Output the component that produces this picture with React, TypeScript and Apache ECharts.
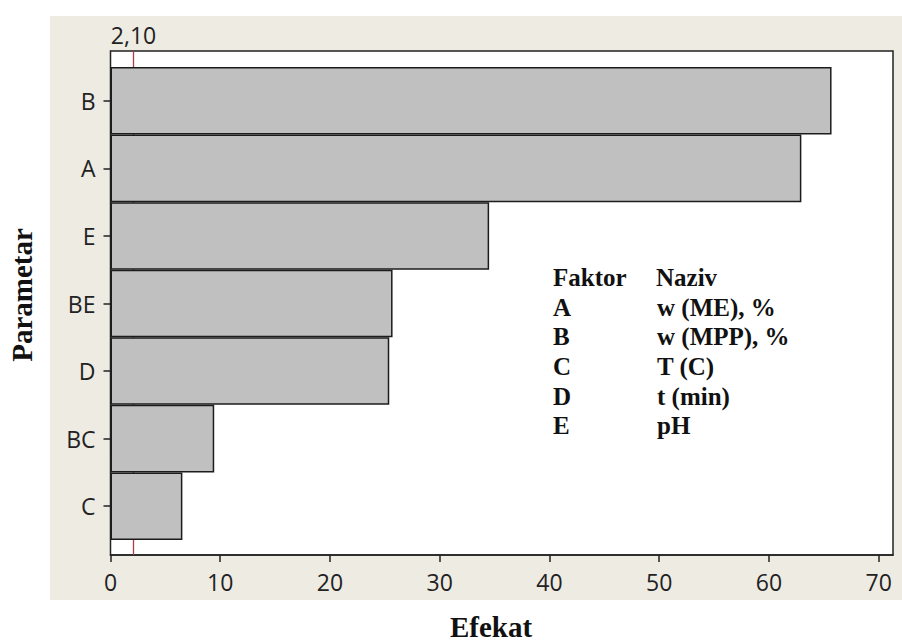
import React, { useEffect, useRef } from "react";
import * as echarts from "echarts";

// Pareto-style effect chart: standardized effects per parameter
const parameters = ["B", "A", "E", "BE", "D", "BC", "C"];
const effects = [65.7, 62.95, 34.5, 25.7, 25.4, 9.45, 6.55];
const criticalValue = 2.1;
const criticalLabel = "2,10";

// Key of factors shown inside the plot
const factorCodes = ["A", "B", "C", "D", "E"];
const factorNames = ["w (ME), %", "w (MPP), %", "T (C)", "t (min)", "pH"];

const X_MAX = 71.3;
const SANS = "'Open Sans', 'Noto Sans', sans-serif";
const SERIF = "'Liberation Serif', 'DejaVu Serif', serif";

export default function App() {
  const ref = useRef<HTMLDivElement>(null);

  useEffect(() => {
    if (!ref.current) return;
    const chart = echarts.init(ref.current, undefined, { renderer: "svg" });

    const keyFont = `bold 25px ${SERIF}`;
    const keyTexts: any[] = [
      { type: "text", x: 553, y: 277, style: { text: "Faktor", font: keyFont, fill: "#111", textVerticalAlign: "middle" } },
      { type: "text", x: 656, y: 277, style: { text: "Naziv", font: keyFont, fill: "#111", textVerticalAlign: "middle" } },
    ];
    factorCodes.forEach((code, i) => {
      const y = 307 + i * 29.7;
      keyTexts.push({ type: "text", x: 553, y, style: { text: code, font: keyFont, fill: "#111", textVerticalAlign: "middle" } });
      keyTexts.push({ type: "text", x: 657, y, style: { text: factorNames[i], font: keyFont, fill: "#111", textVerticalAlign: "middle" } });
    });

    chart.setOption({
      animation: false,
      backgroundColor: "#ffffff",
      graphic: [
        { type: "rect", z: -10, shape: { x: 50, y: 16, width: 852, height: 584 }, style: { fill: "#EEEBE3" }, silent: true },
        {
          type: "text",
          x: 491,
          y: 627,
          style: { text: "Efekat", font: `bold 29px ${SERIF}`, fill: "#111", textAlign: "center", textVerticalAlign: "middle" },
        },
        {
          type: "text",
          x: 22,
          y: 295,
          rotation: Math.PI / 2,
          style: { text: "Parametar", font: `bold 29px ${SERIF}`, fill: "#111", textAlign: "center", textVerticalAlign: "middle" },
        },
        ...keyTexts,
      ],
      grid: [
        {
          left: 110.5,
          right: 9,
          top: 51,
          bottom: 87,
          show: true,
          backgroundColor: "#ffffff",
          borderColor: "#222",
          borderWidth: 1.5,
        },
        { left: 110.5, right: 9, top: 67, bottom: 102 },
      ],
      xAxis: [
        {
          type: "value",
          gridIndex: 0,
          min: 0,
          max: X_MAX,
          interval: 10,
          splitLine: { show: false },
          axisLine: { show: true, lineStyle: { color: "#222", width: 1.5 } },
          axisTick: { show: true, length: 7, lineStyle: { color: "#222", width: 1.5 } },
          axisLabel: {
            margin: 15,
            fontFamily: SANS,
            fontSize: 23,
            color: "#222",
            showMaxLabel: false,
          },
        },
        {
          type: "value",
          gridIndex: 1,
          min: 0,
          max: X_MAX,
          show: false,
        },
      ],
      yAxis: [
        { type: "value", gridIndex: 0, min: 0, max: 1, show: false },
        {
          type: "category",
          gridIndex: 1,
          data: parameters,
          inverse: true,
          axisLine: { show: false },
          axisTick: { show: true, alignWithLabel: true, length: 7, lineStyle: { color: "#222", width: 1.5 } },
          axisLabel: { margin: 15, fontFamily: SANS, fontSize: 23, color: "#222" },
          splitLine: { show: false },
        },
      ],
      series: [
        {
          type: "line",
          xAxisIndex: 0,
          yAxisIndex: 0,
          data: [],
          z: 1,
          markLine: {
            z: 1,
            silent: true,
            symbol: "none",
            lineStyle: { color: "#B03A4A", width: 1.3, type: "solid" },
            label: {
              show: true,
              position: "end",
              formatter: criticalLabel,
              fontFamily: SANS,
              fontSize: 23,
              color: "#222",
            },
            data: [{ xAxis: criticalValue }],
          },
        },
        {
          type: "bar",
          xAxisIndex: 1,
          yAxisIndex: 1,
          data: effects,
          barCategoryGap: 0,
          barWidth: "100%",
          z: 3,
          itemStyle: { color: "#C0C0C0", borderColor: "#1c1c1c", borderWidth: 1.5 },
        },
      ],
    });

    return () => chart.dispose();
  }, []);

  return (
    <div
      ref={ref}
      style={{ position: "fixed", left: 0, top: 0, width: 902, height: 642 }}
    />
  );
}
